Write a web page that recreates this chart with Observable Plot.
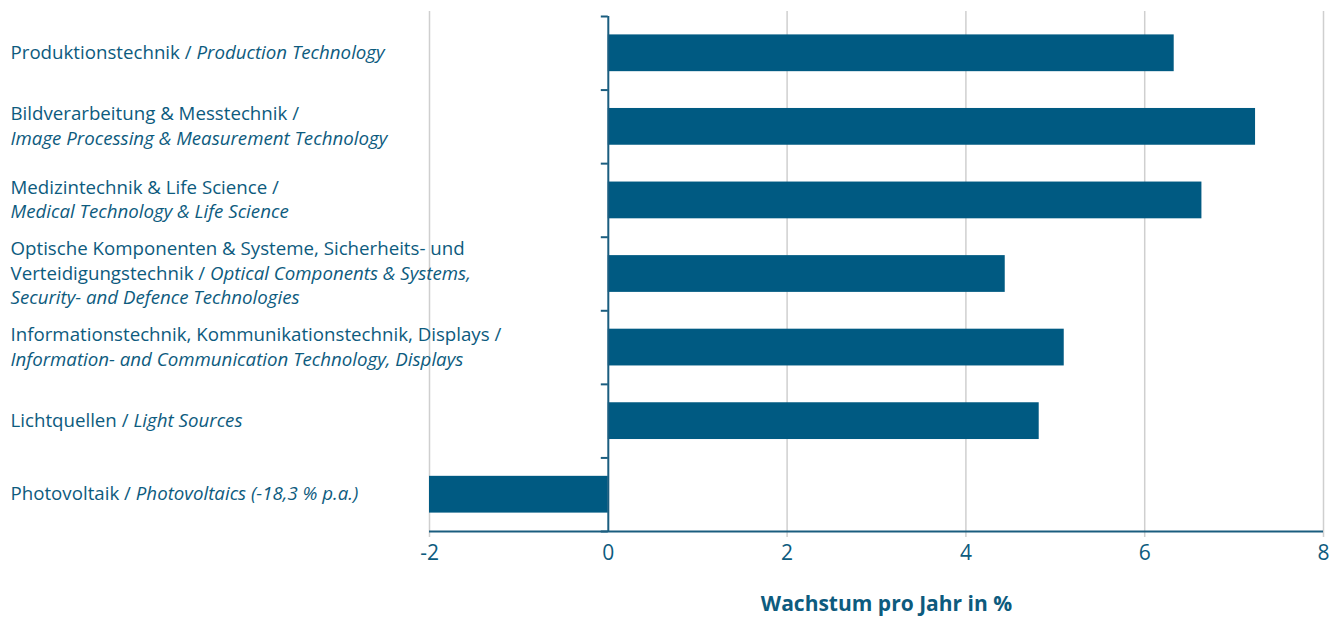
<!DOCTYPE html>
<html><head><meta charset="utf-8">
<script src="https://cdn.jsdelivr.net/npm/d3@7"></script>
<script src="https://cdn.jsdelivr.net/npm/@observablehq/plot@0.6"></script>
<style>body{margin:0;background:#fff} svg{display:block}</style>
</head><body><div id="chart"></div>
<script>
// Category labels ("*...*" marks the italic English part)
const categories = [
  "Produktionstechnik / *Production Technology*",
  "Bildverarbeitung & Messtechnik /\n*Image Processing & Measurement Technology*",
  "Medizintechnik & Life Science /\n*Medical Technology & Life Science*",
  "Optische Komponenten & Systeme, Sicherheits- und\nVerteidigungstechnik / *Optical Components & Systems,*\n*Security- and Defence Technologies*",
  "Informationstechnik, Kommunikationstechnik, Displays /\n*Information- and Communication Technology, Displays*",
  "Lichtquellen / *Light Sources*",
  "Photovoltaik / *Photovoltaics (-18,3 % p.a.)*"
];
const growth = [6.33, 7.24, 6.64, 4.44, 5.10, 4.82, -18.3];
const xTicks = [-2, 0, 2, 4, 6, 8];
const gridTicks = [-2, 2, 4, 6, 8];
const bandEdges = [0, 1, 2, 3, 4, 5, 6, 7];
const axisTitle = "Wachstum pro Jahr in %";

const BLUE = "#005a82";
const TEXT = "#0d5b7e";
const AXIS = "#1a5d7f";

const table = categories.map((label, i) => ({label, i, value: growth[i]}));

function richText(index, scales, values, dims, context, next) {
  const g = next(index, scales, values, dims, context);
  const ns = "http://www.w3.org/2000/svg";
  d3.select(g).selectAll("text").each(function () {
    const spans = this.querySelectorAll("tspan");
    const targets = spans.length ? Array.from(spans) : [this];
    for (const el of targets) {
      const s = el.textContent;
      el.textContent = "";
      s.split("*").forEach((seg, k) => {
        if (!seg) return;
        const t = document.createElementNS(ns, "tspan");
        if (k % 2) t.setAttribute("font-style", "italic");
        t.textContent = seg;
        el.appendChild(t);
      });
    }
  });
  return g;
}

const chart = Plot.plot({
  width: 1341,
  height: 617,
  marginTop: 16,
  marginBottom: 86,
  marginLeft: 429,
  marginRight: 18,
  style: {fontFamily: "'Open Sans', sans-serif", color: TEXT, background: "white", overflow: "visible"},
  x: {domain: [-2, 8], axis: null},
  y: {domain: [0, 7], reverse: true, axis: null},
  marks: [
    Plot.ruleX(gridTicks, {stroke: "#cfcfcf", strokeWidth: 1.5, insetTop: -5, insetBottom: -6}),
    Plot.rectX(table, {x1: 0, x2: "value", y1: "i", y2: d => d.i + 1, insetTop: 18.4, insetBottom: 18.4, fill: BLUE, clip: true}),
    Plot.ruleX([0], {stroke: AXIS, strokeWidth: 2}),
    Plot.ruleY([7], {stroke: AXIS, strokeWidth: 2}),
    Plot.ruleY(bandEdges, {y: d => d, x1: 0, x2: 0, insetLeft: -7, stroke: AXIS, strokeWidth: 2}),
    Plot.axisX(xTicks, {tickSize: 0, tickPadding: 14, fontSize: 21, label: null, fill: TEXT, tickFormat: d => String(d)}),
    Plot.text(table, {
      text: "label", y: d => d.i + 0.5, frameAnchor: "left", dx: -419, dy: -2,
      textAnchor: "start", lineAnchor: "middle", lineHeight: 1.3,
      fontSize: 18.7, fill: TEXT, render: richText
    }),
    Plot.text([axisTitle], {text: d => d, frameAnchor: "bottom", dy: 79, dx: 10, fontSize: 21, fontWeight: "bold", fill: TEXT})
  ]
});
document.getElementById("chart").appendChild(chart);
</script>
</body></html>
